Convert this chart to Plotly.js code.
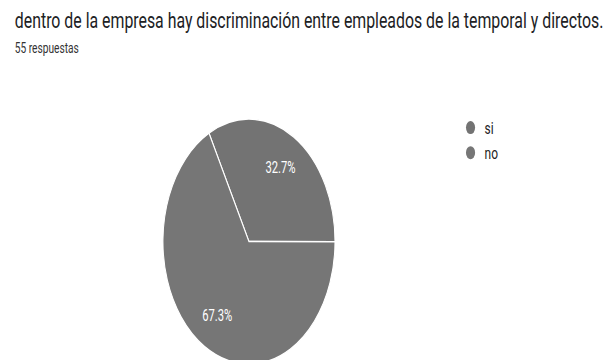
<!DOCTYPE html>
<html>
<head>
<meta charset="utf-8">
<script src="https://cdn.plot.ly/plotly-3.0.1.min.js"></script>
<style>
  html, body { margin: 0; padding: 0; background: #fff; width: 611px; height: 360px; overflow: hidden; }
  #wrap { width: 611px; height: 360px; overflow: hidden; position: relative; }
  #chart { position: absolute; left: 0; top: 0; width: 870px; height: 370px; transform: scaleX(0.7023); transform-origin: 0 0; }
</style>
</head>
<body>
<div id="wrap"><div id="chart"></div></div>
<script>
// Data
const titleText = "dentro de la empresa hay discriminación entre empleados de la temporal y directos.";
const subtitleText = "55 respuestas";
const labels = ["si", "no"];
const counts = [18, 37];
const colors = ["#737373", "#767676"];

const W = 870, H = 370;
const pieDomain = { x: [232 / W, 477 / W], y: [(H - 364.2) / H, (H - 119) / H] };

// Full pie: fills and white separators
const pieFill = {
  type: "pie",
  labels: labels,
  values: counts,
  sort: false,
  direction: "clockwise",
  rotation: -27.7,
  marker: { colors: colors, line: { color: "#ffffff", width: 1.5 } },
  textinfo: "none",
  hoverinfo: "label+percent",
  showlegend: false,
  domain: pieDomain
};

// Same pie with a hole, transparent, used only to place the percentage labels further out
const pieText = {
  type: "pie",
  labels: labels,
  values: counts,
  sort: false,
  direction: "clockwise",
  rotation: -27.7,
  hole: 0.42,
  marker: { colors: ["rgba(0,0,0,0)", "rgba(0,0,0,0)"], line: { width: 0 } },
  texttemplate: "%{percent:.1%}",
  textposition: "inside",
  insidetextorientation: "horizontal",
  insidetextfont: { color: "#ffffff", size: 16, family: "Roboto, sans-serif" },
  hoverinfo: "skip",
  showlegend: false,
  domain: pieDomain
};

const legendTraces = labels.map((lab, i) => ({
  type: "scatter",
  mode: "markers",
  x: [null], y: [null],
  name: lab,
  marker: { color: colors[i], size: 13, symbol: "circle" },
  showlegend: true,
  hoverinfo: "skip"
}));

const layout = {
  width: W, height: H,
  margin: { l: 0, r: 0, t: 0, b: 0 },
  paper_bgcolor: "#ffffff",
  plot_bgcolor: "#ffffff",
  font: { family: "Roboto, sans-serif", color: "#222222" },
  xaxis: { visible: false }, yaxis: { visible: false },
  showlegend: true,
  legend: {
    x: 650 / W, xanchor: "left",
    y: (H - 110) / H, yanchor: "top",
    font: { size: 17, color: "#222222" },
    traceorder: "normal",
    bgcolor: "rgba(0,0,0,0)"
  },
  annotations: [
    { text: titleText, xref: "paper", yref: "paper", x: 18.5 / W, y: (H - 20.5) / H,
      xanchor: "left", yanchor: "middle", showarrow: false,
      font: { size: 22.6, color: "#202124", family: "Roboto, sans-serif" } },
    { text: subtitleText, xref: "paper", yref: "paper", x: 18.5 / W, y: (H - 48) / H,
      xanchor: "left", yanchor: "middle", showarrow: false,
      font: { size: 14.5, color: "#333333", family: "Roboto, sans-serif" } }
  ]
};

Plotly.newPlot("chart", [pieFill, pieText].concat(legendTraces), layout, { displayModeBar: false, staticPlot: true });
</script>
</body>
</html>
